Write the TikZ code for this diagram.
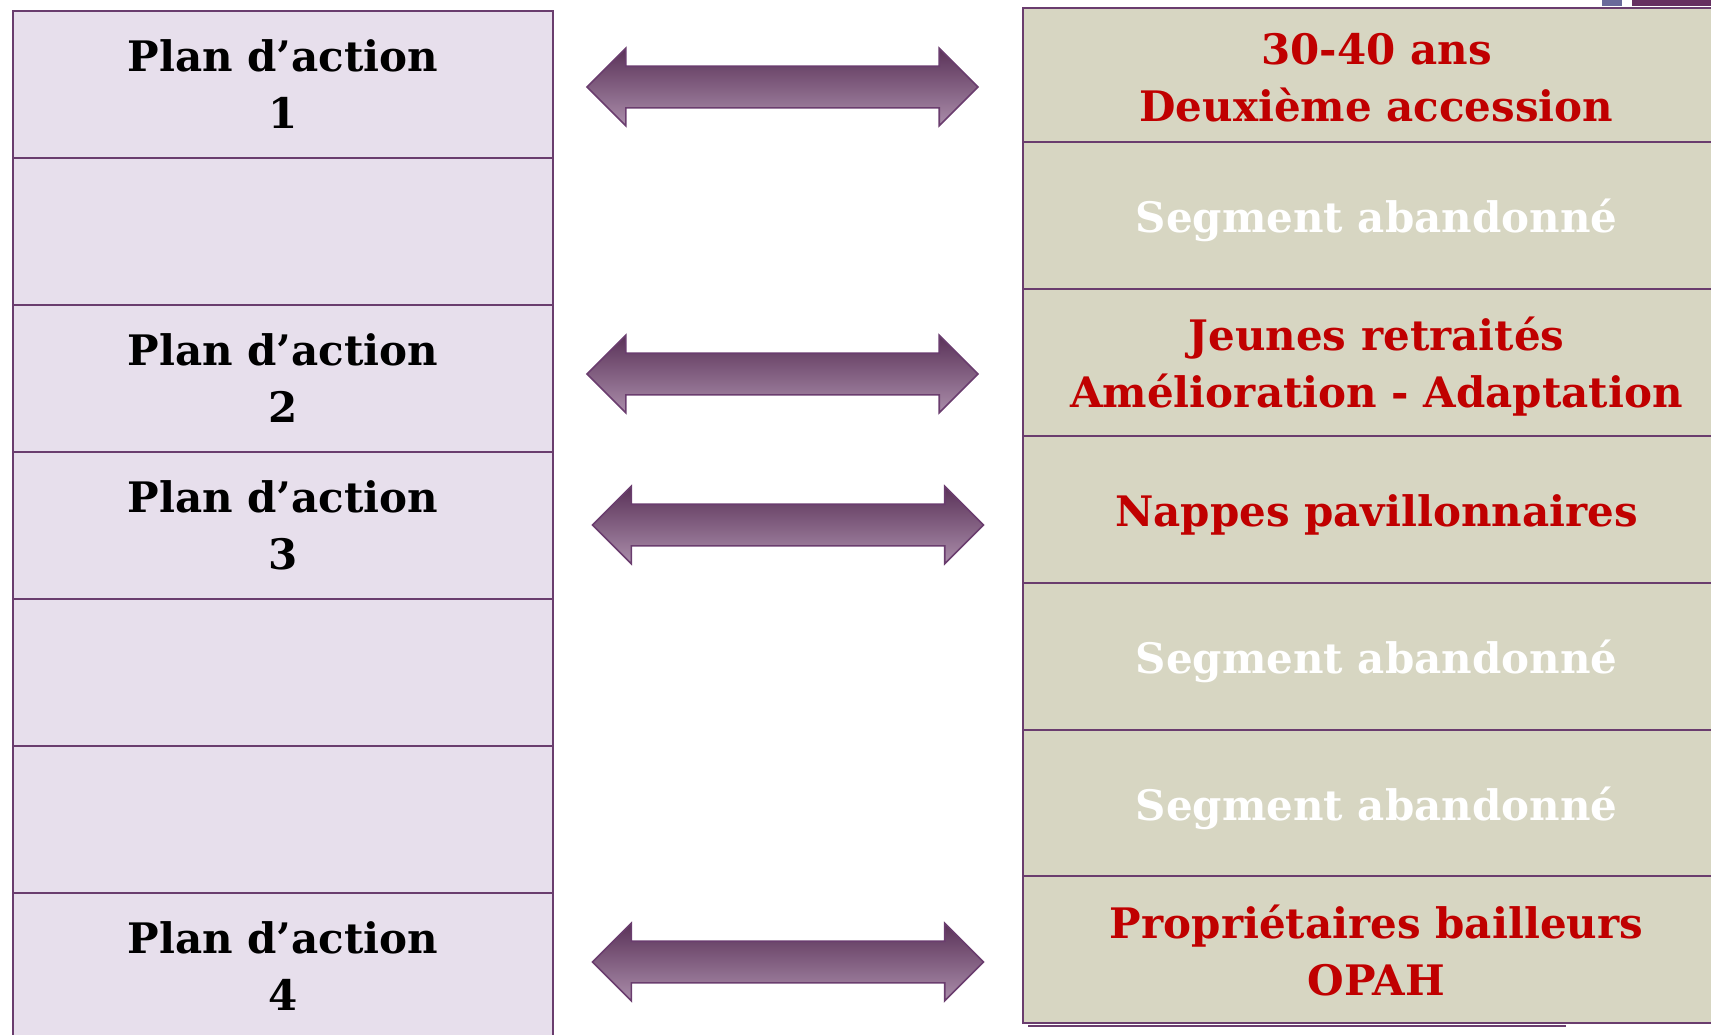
\documentclass[tikz,border=0pt]{standalone}
\usepackage{fontspec}
\setmainfont{DejaVu Serif}
\usetikzlibrary{shapes.arrows}
\definecolor{planfill}{HTML}{E7DFEC}
\definecolor{planline}{HTML}{6A3D6E}
\definecolor{segfill}{HTML}{D7D6C2}
\definecolor{segred}{HTML}{C00000}
\definecolor{arrowtop}{HTML}{5A3258}
\definecolor{arrowbot}{HTML}{AA8DAA}
\definecolor{tabblue}{HTML}{6A6A9A}
\definecolor{tabpurple}{HTML}{663060}
\tikzset{
  cellfont/.style={inner sep=0pt, align=center, font=\fontsize{21}{28.5}\selectfont\bfseries},
  cell/.style={draw=planline, line width=1pt, cellfont},
  plan/.style={cell, fill=planfill, minimum width=270pt, minimum height=73.5pt},
  seg/.style={cell, fill=segfill, minimum width=353.5pt, minimum height=73.5pt},
  segtxt/.style={cellfont, text=segred},
  videtxt/.style={cellfont, text=white},
  fleche/.style={double arrow, double arrow head extend=9pt, inner sep=10pt,
    minimum height=195.5pt, draw=planline, line width=0.8pt,
    top color=arrowtop, bottom color=arrowbot}
}
\begin{document}
\begin{tikzpicture}[x=0.5pt,y=-0.5pt]
                %\draw[help lines] (0,0) grid (1711,1034);
                \useasboundingbox (0,0) rectangle (1711,1034);
                \clip (0,0) rectangle (1711,1034);
                % plans d'action
                \node[plan] (l1) at (283,84.5) {Plan d’action\\1};
                \node[plan] (l2) at (283,231.5) {};
                \node[plan] (l3) at (283,378.5) {Plan d’action\\2};
                \node[plan] (l4) at (283,525.5) {Plan d’action\\3};
                \node[plan] (l5) at (283,672.5) {};
                \node[plan] (l6) at (283,819.5) {};
                \node[plan] (l7) at (283,966.5) {Plan d’action\\4};
                % segments
                \draw[planline, line width=1pt] (1028,1026) -- (1566,1026);
                \node[seg, minimum height=67pt] (r1) at (1376.5,75) {};
                \node[seg] (r2) at (1376.5,215.5) {};
                \node[seg] (r3) at (1376.5,362.5) {};
                \node[seg] (r4) at (1376.5,509.5) {};
                \node[seg] (r5) at (1376.5,656.5) {};
                \node[seg] (r6) at (1376.5,803.5) {};
                \node[seg] (r7) at (1376.5,949.5) {};
                \node[segtxt] (t1) at ([yshift=-1.2pt]r1.center) {30-40 ans\\Deuxième accession};
                \node[videtxt] (t2) at ([yshift=-2.6pt]r2.center) {Segment abandonné};
                \node[segtxt] (t3) at ([yshift=-1.8pt]r3.center) {Jeunes retraités\\Amélioration - Adaptation};
                \node[segtxt] (t4) at ([yshift=-2.6pt]r4.center) {Nappes pavillonnaires};
                \node[videtxt] (t5) at ([yshift=-2.6pt]r5.center) {Segment abandonné};
                \node[videtxt] (t6) at ([yshift=-2.6pt]r6.center) {Segment abandonné};
                \node[segtxt] (t7) at ([yshift=-0.3pt]r7.center) {Propriétaires bailleurs\\OPAH};
                % fleches
                \node[fleche] (f1) at (782.5,87) {};
                \node[fleche] (f2) at (782.5,374) {};
                \node[fleche] (f3) at (788,525) {};
                \node[fleche] (f4) at (788,962) {};
                % onglets
                \fill[tabblue] (1602,0) rectangle (1622,6);
                \fill[tabpurple] (1632,0) rectangle (1711,6);
            \end{tikzpicture}
\end{document}
